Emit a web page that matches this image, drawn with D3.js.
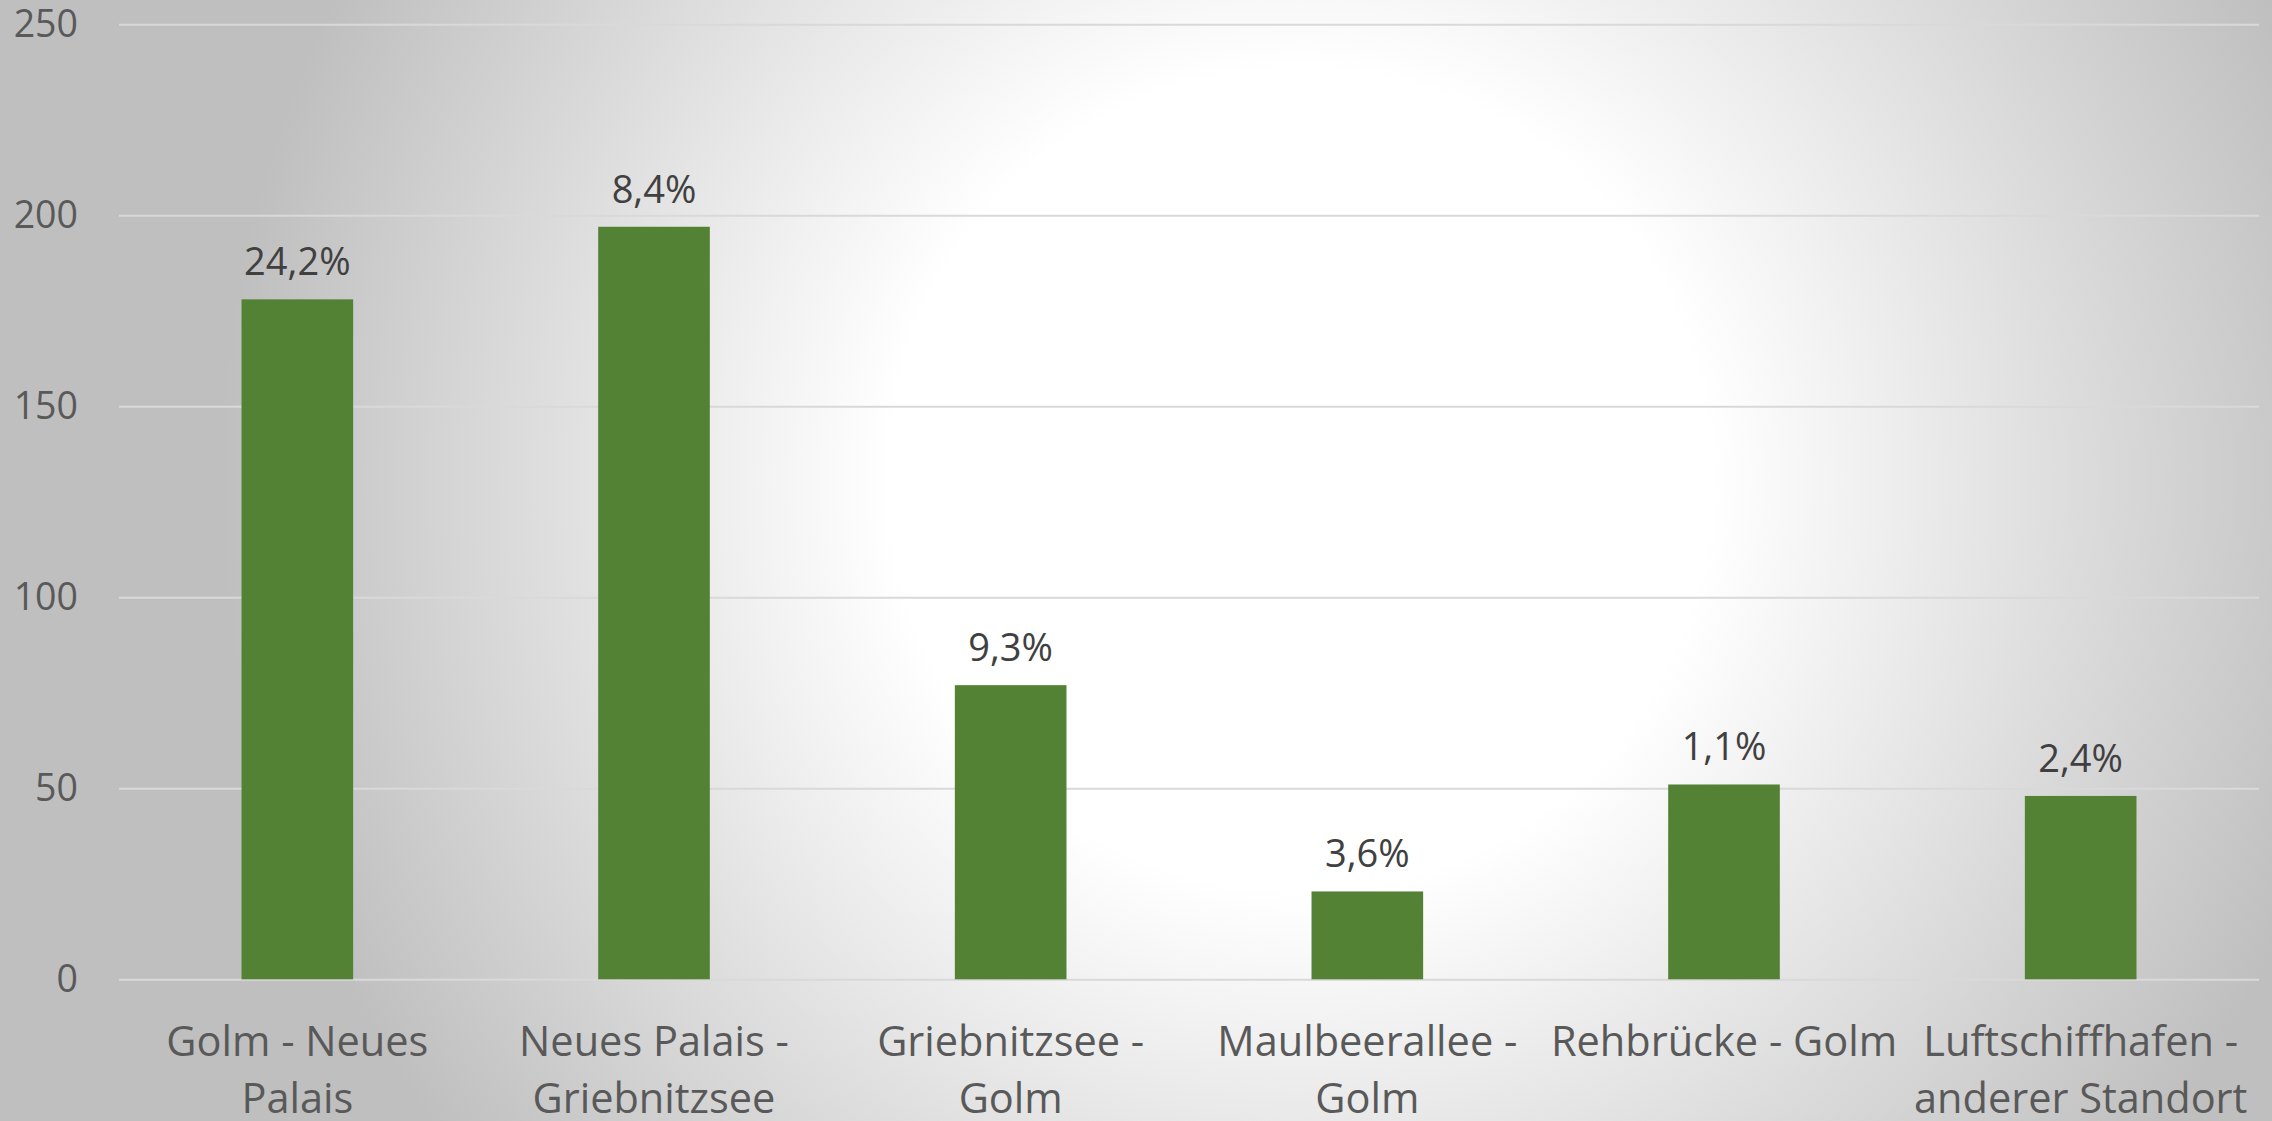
<!DOCTYPE html>
<html>
<head>
<meta charset="utf-8">
<script src="https://cdn.jsdelivr.net/npm/d3@7"></script>
<style>
  body { margin: 0; overflow: hidden; }
  text { font-family: "Open Sans", sans-serif; }
</style>
</head>
<body>
<svg id="chart"></svg>
<script>
// Fahrten je Strecke
const categories = ["Golm - Neues Palais", "Neues Palais - Griebnitzsee", "Griebnitzsee - Golm",
  "Maulbeerallee - Golm", "Rehbrücke - Golm", "Luftschiffhafen - anderer Standort"];
const counts = [178, 197, 77, 23, 51, 48];
const shareLabels = ["24,2%", "8,4%", "9,3%", "3,6%", "1,1%", "2,4%"];
const yTicks = [0, 50, 100, 150, 200, 250];

const width = 2272, height = 1121;
const margin = { top: 24.3, right: 13, bottom: height - 979.3, left: 119 };
const w = width - margin.left - margin.right;
const h = height - margin.top - margin.bottom;

const svg = d3.select("#chart").attr("width", width).attr("height", height);

// hintergrund: radialer verlauf weiss -> grau
const grad = svg.append("defs").append("radialGradient")
  .attr("id", "bg").attr("gradientUnits", "userSpaceOnUse")
  .attr("cx", 1300).attr("cy", 480).attr("r", 1080);
grad.append("stop").attr("offset", 0).attr("stop-color", "#ffffff");
grad.append("stop").attr("offset", 0.38).attr("stop-color", "#ffffff");
grad.append("stop").attr("offset", 1).attr("stop-color", "#bfbfbf");
svg.append("rect").attr("width", width).attr("height", height).attr("fill", "url(#bg)");

const g = svg.append("g").attr("transform", `translate(${margin.left},${margin.top})`);

const x = d3.scaleBand().domain(categories).range([0, w]).paddingInner(0.687).paddingOuter(0.3435);
const y = d3.scaleLinear().domain([0, 250]).range([h, 0]);

// gitternetz + y-beschriftung
const yAxis = g.append("g").call(d3.axisLeft(y).tickValues(yTicks).tickSize(-w).tickPadding(41));
yAxis.select(".domain").remove();
yAxis.selectAll("line").attr("stroke", "#d9d9d9").attr("stroke-width", 2);
yAxis.selectAll("text").attr("fill", "#595959").style("font-size", "37.5px");

// balken
g.selectAll("rect.bar")
  .data(counts)
  .join("rect")
    .attr("class", "bar")
    .attr("x", (d, i) => x(categories[i]))
    .attr("y", d => y(d))
    .attr("width", x.bandwidth())
    .attr("height", d => h - y(d))
    .attr("fill", "#548235");

// datenbeschriftung
g.selectAll("text.lbl")
  .data(counts)
  .join("text")
    .attr("class", "lbl")
    .attr("x", (d, i) => x(categories[i]) + x.bandwidth() / 2)
    .attr("y", d => y(d) - 24)
    .attr("text-anchor", "middle")
    .attr("fill", "#404040")
    .style("font-size", "38px")
    .text((d, i) => shareLabels[i]);

// kategorien mit umbruch
const step = x.step();
const xAxis = g.append("g").attr("transform", `translate(0,${h})`)
  .call(d3.axisBottom(x).tickSize(0).tickPadding(0));
xAxis.select(".domain").remove();
xAxis.selectAll("text").each(function (d) {
  const t = d3.select(this).text(null)
    .attr("y", 0).attr("dy", null)
    .attr("fill", "#595959").style("font-size", "41.5px");
  const words = d.split(" ");
  let line = [], lineNo = 0;
  let tspan = t.append("tspan").attr("x", 0).attr("y", 77);
  words.forEach(word => {
    line.push(word);
    tspan.text(line.join(" "));
    if (tspan.node().getComputedTextLength() > step - 4 && line.length > 1) {
      line.pop();
      tspan.text(line.join(" "));
      line = [word];
      lineNo++;
      tspan = t.append("tspan").attr("x", 0).attr("y", 77 + lineNo * 57).text(word);
    }
  });
});
</script>
</body>
</html>
